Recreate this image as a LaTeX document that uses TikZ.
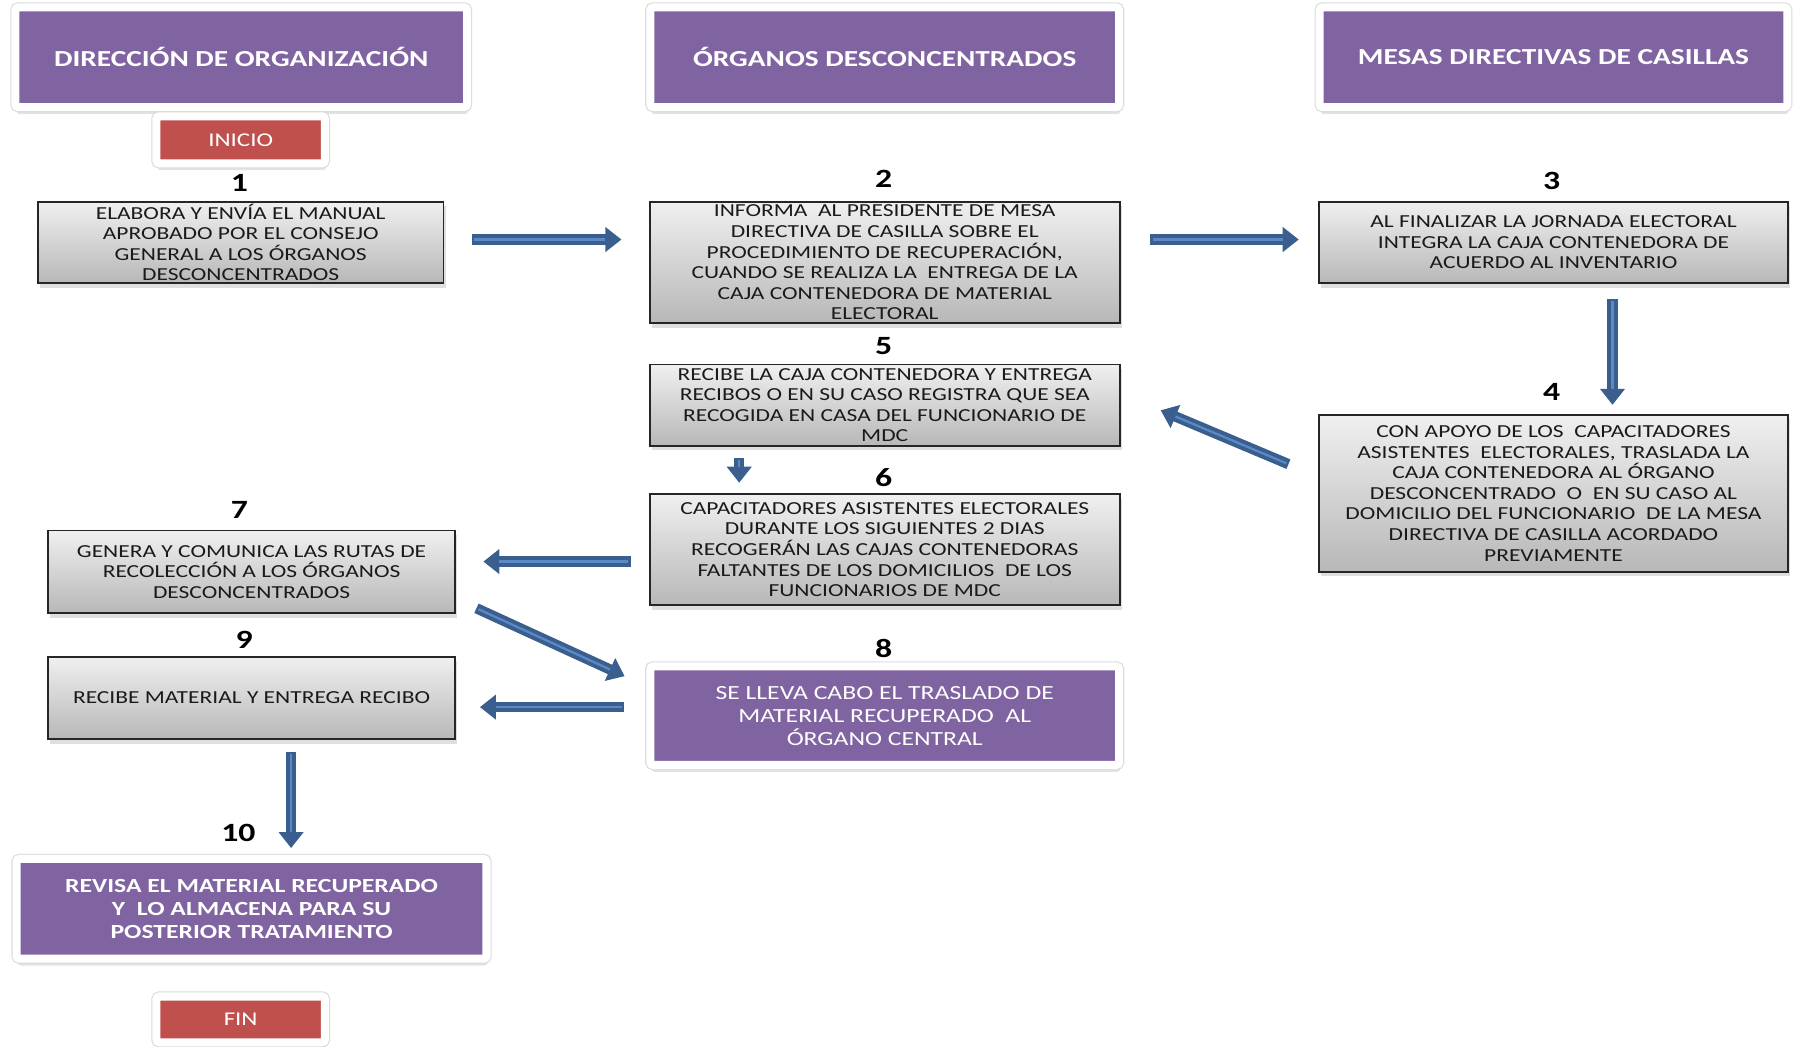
\documentclass[tikz,border=0pt]{standalone}
\usepackage{fontspec}
\setmainfont{Carlito}[FakeStretch=1.28]
\usetikzlibrary{arrows.meta,shadows}
\definecolor{purp}{HTML}{8064A2}
\definecolor{redb}{HTML}{C0504D}
\definecolor{arrd}{HTML}{3A5F8E}
\definecolor{arrl}{HTML}{5A89C4}
\definecolor{txt}{HTML}{1A1A1A}
\tikzset{
 graybox/.style={draw=black!85, line width=1.5pt, top color=black!6, bottom color=black!28, align=center, inner sep=0pt, text=txt, font=\fontsize{16}{18}\selectfont, drop shadow={opacity=0.25, shadow xshift=2pt, shadow yshift=-4pt}},
 framebox/.style={draw=white, line width=7pt, rounded corners=2.5pt, align=center, inner sep=0pt, text=white,
   drop shadow={opacity=0.22, shadow xshift=1pt, shadow yshift=-6pt},
   preaction={draw=black!14, line width=9pt}},
 head/.style={framebox, fill=purp, font=\bfseries\fontsize{20}{24}\selectfont, minimum height=87pt},
 endbox/.style={framebox, fill=redb, font=\fontsize{17}{20}\selectfont, minimum width=147pt, minimum height=41pt},
 num/.style={font=\bfseries\fontsize{23}{26}\selectfont, text=black, inner sep=0pt},
 blk/.style={arrd, line width=9pt, -{Triangle[width=21pt,length=14pt]}},
 blkhl/.style={arrl, line width=2pt, shorten >=14pt, shorten <=2pt},
}
\newcommand\flowarrow[2]{\draw[blk] #1 -- #2; \draw[blkhl] #1 -- #2;}
\begin{document}
\begin{tikzpicture}[x=1pt,y=-1pt]
\useasboundingbox (0,0) rectangle (1568,913);
% headers
\node[head, minimum width=394pt] (h1) at (210.5,50) {DIRECCIÓN DE ORGANIZACIÓN};
\node[head, minimum width=409pt] (h2) at (772,50) {ÓRGANOS DESCONCENTRADOS};
\node[head, minimum width=408pt] (h3) at (1355.5,50) {MESAS DIRECTIVAS DE CASILLAS};
\node[endbox] (ini) at (210,122) {INICIO};
% numbers
\node[num] (n1) at (209,160) {1};
\node[num] (n2) at (771,156) {2};
\node[num] (n3) at (1354,158) {3};
\node[num] (n4) at (1354,342) {4};
\node[num] (n5) at (771,302) {5};
\node[num] (n6) at (771,417) {6};
\node[num] (n7) at (209,445) {7};
\node[num] (n8) at (771,566) {8};
\node[num] (n9) at (213,558) {9};
\node[num] (n10) at (208,727) {10};
% boxes
\node[graybox, minimum width=354pt, minimum height=71pt] (b1) at (210,211.5)
 {ELABORA Y ENVÍA EL MANUAL\\APROBADO POR EL CONSEJO\\GENERAL A LOS ÓRGANOS\\DESCONCENTRADOS};
\node[graybox, minimum width=410pt, minimum height=106pt] (b2) at (772,229)
 {INFORMA~ AL PRESIDENTE DE MESA\\DIRECTIVA DE CASILLA SOBRE EL\\PROCEDIMIENTO DE RECUPERACIÓN,\\CUANDO SE REALIZA LA~ ENTREGA DE LA\\CAJA CONTENEDORA DE MATERIAL\\ELECTORAL};
\node[graybox, minimum width=409pt, minimum height=71pt] (b3) at (1355.5,211.5)
 {AL FINALIZAR LA JORNADA ELECTORAL\\INTEGRA LA CAJA CONTENEDORA DE\\ACUERDO AL INVENTARIO};
\node[graybox, minimum width=409pt, minimum height=137pt] (b4) at (1355.5,430.5)
 {CON APOYO DE LOS~ CAPACITADORES\\ASISTENTES~ ELECTORALES, TRASLADA LA\\CAJA CONTENEDORA AL ÓRGANO\\DESCONCENTRADO~ O~ EN SU CASO AL\\DOMICILIO DEL FUNCIONARIO~ DE LA MESA\\DIRECTIVA DE CASILLA ACORDADO\\PREVIAMENTE};
\node[graybox, minimum width=410pt, minimum height=71pt] (b5) at (772,353.5)
 {RECIBE LA CAJA CONTENEDORA Y ENTREGA\\RECIBOS O EN SU CASO REGISTRA QUE SEA\\RECOGIDA EN CASA DEL FUNCIONARIO DE\\MDC};
\node[graybox, minimum width=410pt, minimum height=97pt] (b6) at (772,479.5)
 {CAPACITADORES ASISTENTES ELECTORALES\\DURANTE LOS SIGUIENTES 2 DIAS\\RECOGERÁN LAS CAJAS CONTENEDORAS\\FALTANTES DE LOS DOMICILIOS~ DE LOS\\FUNCIONARIOS DE MDC};
\node[graybox, minimum width=355pt, minimum height=72pt] (b7) at (219.5,499)
 {GENERA Y COMUNICA LAS RUTAS DE\\RECOLECCIÓN A LOS ÓRGANOS\\DESCONCENTRADOS};
\node[framebox, fill=purp, font=\fontsize{17.5}{20}\selectfont, minimum width=409pt, minimum height=86pt] (b8) at (772,624.5)
 {SE LLEVA CABO EL TRASLADO DE\\MATERIAL RECUPERADO~ AL\\ÓRGANO CENTRAL};
\node[graybox, minimum width=355pt, minimum height=72pt] (b9) at (219.5,609)
 {RECIBE MATERIAL Y ENTREGA RECIBO};
\node[framebox, fill=purp, font=\bfseries\fontsize{17.5}{20}\selectfont, minimum width=410pt, minimum height=87pt] (b10) at (219.5,793)
 {REVISA EL MATERIAL RECUPERADO\\Y~ LO ALMACENA PARA SU\\POSTERIOR TRATAMIENTO};
\node[endbox, minimum height=40pt] (fin) at (210,889.5) {FIN};
% arrows
\flowarrow{([xshift=24pt,yshift=2.5pt]b1.east)}{([xshift=-24pt,yshift=20pt]b2.west)}
\flowarrow{([xshift=26pt,yshift=20pt]b2.east)}{([xshift=-17pt,yshift=2.5pt]b3.west)}
\flowarrow{([xshift=51.5pt,yshift=-13pt]b3.south)}{([xshift=51.5pt,yshift=8pt]b4.north)}
\flowarrow{([xshift=-26pt,yshift=25.5pt]b4.west)}{([xshift=35pt,yshift=-4.5pt]b5.east)}
\flowarrow{([xshift=-127pt,yshift=-10pt]b5.south)}{([xshift=-127pt,yshift=9pt]b6.north)}
\flowarrow{([xshift=-16pt,yshift=-10.5pt]b6.west)}{([xshift=24pt,yshift=9pt]b7.east)}
\flowarrow{([xshift=18pt,yshift=5pt]b7.south east)}{([xshift=-19pt,yshift=34.5pt]b8.west)}
\flowarrow{([xshift=-19.5pt,yshift=7.5pt]b8.west)}{([xshift=21pt,yshift=-8pt]b9.east)}
\flowarrow{([xshift=34.5pt,yshift=-10pt]b9.south)}{([xshift=34.5pt,yshift=6pt]b10.north)}
\end{tikzpicture}
\end{document}
